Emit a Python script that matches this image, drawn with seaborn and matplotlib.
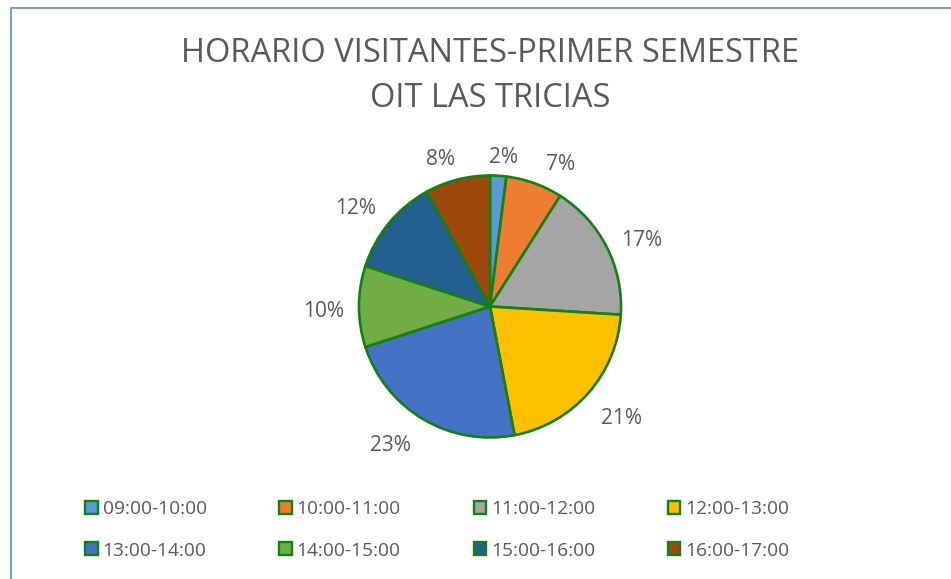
import matplotlib
matplotlib.use("Agg")
import matplotlib.pyplot as plt
import numpy as np
import seaborn as sns
from matplotlib.patches import Patch, Rectangle

categories = ["09:00-10:00", "10:00-11:00", "11:00-12:00", "12:00-13:00",
              "13:00-14:00", "14:00-15:00", "15:00-16:00", "16:00-17:00"]
values = [2, 7, 17, 21, 23, 10, 12, 8]
colors = ["#5B9BD5", "#ED7D31", "#A5A5A5", "#FFC000",
          "#4472C4", "#70AD47", "#255E91", "#9E480E"]
title_lines = ["HORARIO VISITANTES-PRIMER SEMESTRE", "OIT LAS TRICIAS"]
# data-label placement (Excel "best fit"): clockwise angle from 12 o'clock, radius in pie radii
label_angle = [5.3, 26.0, 65.8, 129.9, 216.0, 269.0, 306.8, 341.7]
label_radius = [1.154, 1.221, 1.270, 1.311, 1.290, 1.267, 1.280, 1.199]

sns.set_theme(style="white")
plt.rcParams['font.family'] = ['Open Sans', 'DejaVu Sans']
palette = sns.color_palette(colors)

W, H = 951, 579
fig = plt.figure(figsize=(W / 100, H / 100), dpi=100)
fig.patch.set_facecolor("white")

# frame
fig.patches.append(Rectangle((11 / W, -0.1), 1.2, 1 - 8 / H + 0.1,
                             transform=fig.transFigure, fill=False,
                             edgecolor="#5B9BD5", linewidth=1.3))

cx, cy, r = 490, 306.5, 131
ax = fig.add_axes([(cx - r) / W, (H - cy - r) / H, 2 * r / W, 2 * r / H])
edge = "#128012"
wedges, texts, autotexts = ax.pie(
    values, colors=palette, startangle=90, counterclock=False,
    autopct=lambda p: f"{p:.0f}%", pctdistance=1.25, radius=1,
    wedgeprops=dict(edgecolor=edge, linewidth=1.9),
    textprops=dict(color="#595959", fontsize=15))
for t, a, d in zip(autotexts, label_angle, label_radius):
    ang = np.deg2rad(90 - a)
    t.set_position((d * np.cos(ang), d * np.sin(ang) - 0.015))
ax.set_aspect("equal")
ax.set_xlim(-1, 1)
ax.set_ylim(-1, 1)
ax.axis("off")

fig.text(cx / W, 1 - 53 / H, title_lines[0], ha="center", va="center",
         fontsize=23.5, color="#595959")
fig.text(cx / W, 1 - 99 / H, title_lines[1], ha="center", va="center",
         fontsize=23.5, color="#595959")

handles = [Patch(facecolor=palette[i], edgecolor=edge, linewidth=1.7)
           for i in range(len(categories))]
order = [0, 4, 1, 5, 2, 6, 3, 7]
leg = fig.legend([handles[i] for i in order], [categories[i] for i in order],
                 ncol=4, loc="center left", bbox_to_anchor=(68 / W, 1 - 530 / H),
                 frameon=False, fontsize=13.8, handlelength=0.65, handleheight=0.65,
                 handletextpad=0.25, columnspacing=3.8, labelspacing=1.2,
                 labelcolor="#595959")

fig.savefig("out.png", dpi=100)
